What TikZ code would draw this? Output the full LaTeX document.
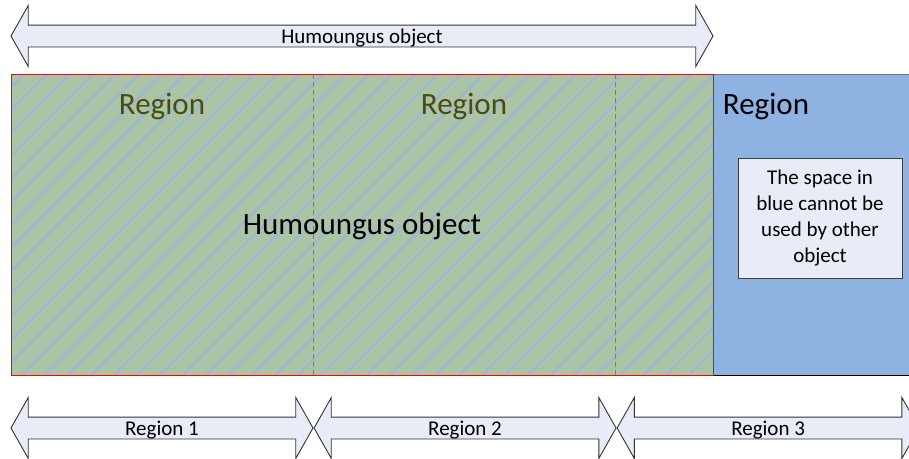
\documentclass[tikz,border=0pt]{standalone}
\usepackage{fontspec}
\setmainfont{Carlito}
\usetikzlibrary{positioning,shapes.arrows}

\definecolor{arrowfill}{HTML}{E7ECF7}
\definecolor{greenzone}{HTML}{ABC4A6}
\definecolor{hatchblue}{HTML}{9BB8D4}
\definecolor{bluezone}{HTML}{8EB3E3}
\definecolor{olivetext}{HTML}{4A4A12}
\definecolor{splitline}{HTML}{3C989E}

\begin{document}
\begin{tikzpicture}[x=1pt,y=-1pt,
spanarrow/.style={double arrow, draw=black!80, fill=arrowfill, line width=0.9pt,
  double arrow tip angle=121, double arrow head extend=19.5pt,
  minimum height=302pt, text height=16pt, text depth=2pt,
  inner ysep=1.5pt, inner xsep=0pt, font=\fontsize{21}{25}\selectfont},
regionlabel/.style={font=\fontsize{31}{36}\selectfont, text=olivetext},
infobox/.style={rectangle, draw=black!75, fill=arrowfill, line width=0.9pt,
  minimum width=164pt, minimum height=120pt, align=center,
  font=\fontsize{21}{25.7}\selectfont},
]
\clip (0,0) rectangle (909,458);
\fill[white] (0,0) rectangle (909,458);

%Areas
\fill[bluezone] (713,74) rectangle (912,375);
\draw[black!55] (713,74) -- (912,74);
\draw[black] (713,375) -- (912,375);

\fill[greenzone] (11,74) rectangle (713,375);
\begin{scope}
\clip (11,74) rectangle (713,375);
\foreach \i in {-300,-277,...,720}
  \draw[hatchblue, line width=2.4pt] (\i,375) -- ++(301,-301);
\end{scope}
\draw[splitline, line width=1pt, dash pattern=on 5pt off 3pt] (313,74) -- (313,375);
\draw[splitline, line width=1pt, dash pattern=on 5pt off 3pt] (615,74) -- (615,375);
\draw[red, line width=0.9pt] (11,74) rectangle (713,375);

%Nodes
\node[regionlabel](reg1) at (162,106){Region};
\node[regionlabel](reg2) at (464,106){Region};
\node[regionlabel, text=black](reg3) at (766,106){Region};
\node[font=\fontsize{31}{36}\selectfont](obj) at (362,226){Humoungus object};
\node[infobox](note) at (820,218){The space in\\blue cannot be\\used by other\\object};

%Arrows
\node[spanarrow, minimum height=702pt](whole) at (362,36){Humoungus object};
\node[spanarrow](span1) at (162,428){Region 1};
\node[spanarrow](span2)[right=0pt of span1]{Region 2};
\node[spanarrow](span3)[right=0pt of span2]{Region 3};
\end{tikzpicture}
\end{document}
